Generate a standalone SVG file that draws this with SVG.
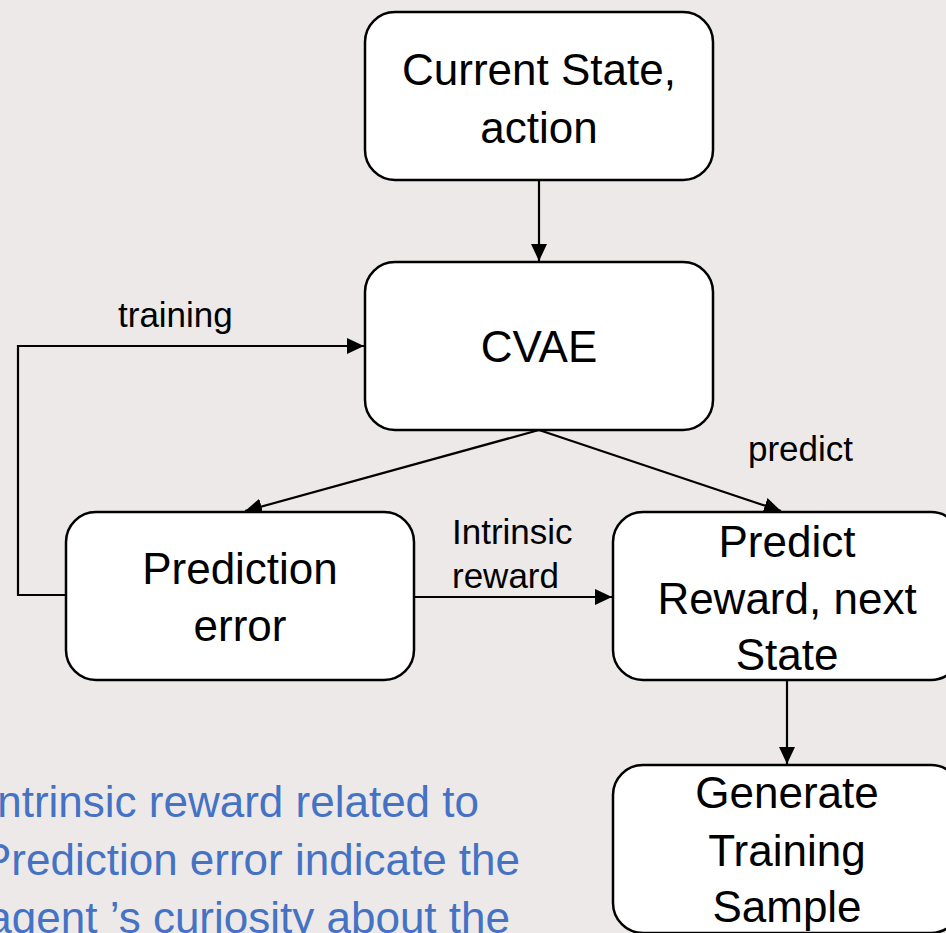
<svg xmlns="http://www.w3.org/2000/svg" width="946" height="933" viewBox="0 0 946 933">
<style>
.box{fill:#ffffff;stroke:#000000;stroke-width:2.5}
.lbl{font-family:"Liberation Sans",Arial,sans-serif;font-size:44px;fill:#000000;text-anchor:middle}
.edge{fill:none;stroke:#000000;stroke-width:2.2}
.elbl{font-family:"Liberation Sans",Arial,sans-serif;font-size:35px;fill:#000000}
.note{font-family:"Liberation Sans",Arial,sans-serif;font-size:44px;fill:#4472C4;text-anchor:end}
</style>
<defs>
<marker id="arr" markerUnits="userSpaceOnUse" markerWidth="20" markerHeight="18" refX="17" refY="8" orient="auto">
<path d="M0,0 L17,8 L0,16 z" fill="#000000"/>
</marker>
</defs>
<rect width="946" height="933" fill="#EDE9E8"/>
<g id="connectors">
<path class="edge" d="M539,180 L539,261" marker-end="url(#arr)"/>
<path class="edge" d="M66,595 L18,595 L18,346 L364,346" marker-end="url(#arr)"/>
<path class="edge" d="M539,430 L245,511" marker-end="url(#arr)"/>
<path class="edge" d="M539,430 L781,511" marker-end="url(#arr)"/>
<path class="edge" d="M414,597 L612,597" marker-end="url(#arr)"/>
<path class="edge" d="M787,680 L787,764" marker-end="url(#arr)"/>
<text class="elbl" x="118" y="327">training</text>
<text class="elbl" x="748" y="461">predict</text>
<text class="elbl" x="452" y="544">Intrinsic</text>
<text class="elbl" x="452" y="588">reward</text>
</g>
<g id="node-current">
<rect class="box" x="365" y="12" width="348" height="168" rx="30"/>
<text class="lbl" x="539" y="85">Current State,</text>
<text class="lbl" x="539" y="143">action</text>
</g>
<g id="node-cvae">
<rect class="box" x="365" y="262" width="348" height="168" rx="30"/>
<text class="lbl" x="539" y="362">CVAE</text>
</g>
<g id="node-prederror">
<rect class="box" x="66" y="512" width="348" height="168" rx="30"/>
<text class="lbl" x="240" y="584">Prediction</text>
<text class="lbl" x="240" y="641">error</text>
</g>
<g id="node-predict">
<rect class="box" x="613" y="512" width="348" height="168" rx="30"/>
<text class="lbl" x="787" y="557">Predict</text>
<text class="lbl" x="787" y="614">Reward, next</text>
<text class="lbl" x="787" y="670">State</text>
</g>
<g id="node-generate">
<rect class="box" x="613" y="765" width="348" height="168" rx="30"/>
<text class="lbl" x="787" y="808">Generate</text>
<text class="lbl" x="787" y="866">Training</text>
<text class="lbl" x="787" y="922">Sample</text>
</g>
<g id="note">
<text class="note" x="479" y="817">Intrinsic reward related to</text>
<text class="note" x="520" y="875">Prediction error indicate the</text>
<text class="note" x="510" y="933">agent ’s curiosity about the</text>
</g>
</svg>
